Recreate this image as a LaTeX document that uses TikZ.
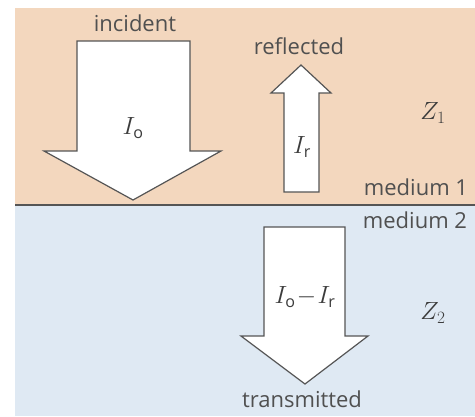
\documentclass[tikz,border=0pt]{standalone}
\usepackage{fontspec}
\setmainfont{Open Sans}
\definecolor{tanbg}{RGB}{243,215,190}
\definecolor{bluebg}{RGB}{223,233,243}
\definecolor{txt}{RGB}{80,80,80}
\definecolor{mtxt}{RGB}{60,60,60}
\definecolor{edge}{RGB}{85,85,85}
\begin{document}
\begin{tikzpicture}[x=1pt,y=-1pt,
  lbl/.style={text=txt,font=\fontsize{22}{26}\selectfont,inner sep=0pt,anchor=base},
  mth/.style={text=mtxt,font=\fontsize{23}{27}\selectfont,inner sep=0pt},
  bigarrow/.style={fill=white,draw=edge,line width=1.2pt,line join=miter}]
\useasboundingbox (0,0) rectangle (475,416);
\fill[white] (0,0) rectangle (475,416);
\fill[tanbg] (15,8) rectangle (475,205);
\fill[bluebg] (15,205) rectangle (475,416);
\coordinate (dl) at (15,205);
\coordinate (dr) at (475,205);
\draw[edge,line width=1.3pt] (dl) -- (dr);
% incident arrow
\draw[bigarrow] (77,41) -- (190,41) -- (190,151) -- (221,151) -- (133,200) -- (44,151) -- (77,151) -- cycle;
% reflected arrow
\draw[bigarrow] (284,192) -- (319,192) -- (319,93) -- (331,93) -- (301,65) -- (271,93) -- (284,93) -- cycle;
% transmitted arrow
\draw[bigarrow] (264,227) -- (345,227) -- (345,336) -- (368,336) -- (305,384) -- (241,336) -- (264,336) -- cycle;
% labels
\node[lbl] (inc) at (135,31) {incident};
\node[lbl] (ref) at (299,54) {reflected};
\node[lbl] (m1) at (416,195) {medium 1};
\node[lbl] (m2) at (415,228) {medium 2};
\node[lbl] (tr) at (302,407) {transmitted};
\node[mth] (io) at (133,128) {$I_{\mathrm{o}}$};
\node[mth] (ir) at (302,147) {$I_{\mathrm{r}}$};
\node[mth] (iot) at (305,297) {$I_{\mathrm{o}}\!-\!I_{\mathrm{r}}$};
\node[mth] (z1) at (433,113) {$Z_1$};
\node[mth] (z2) at (433,313) {$Z_2$};
\end{tikzpicture}
\end{document}
